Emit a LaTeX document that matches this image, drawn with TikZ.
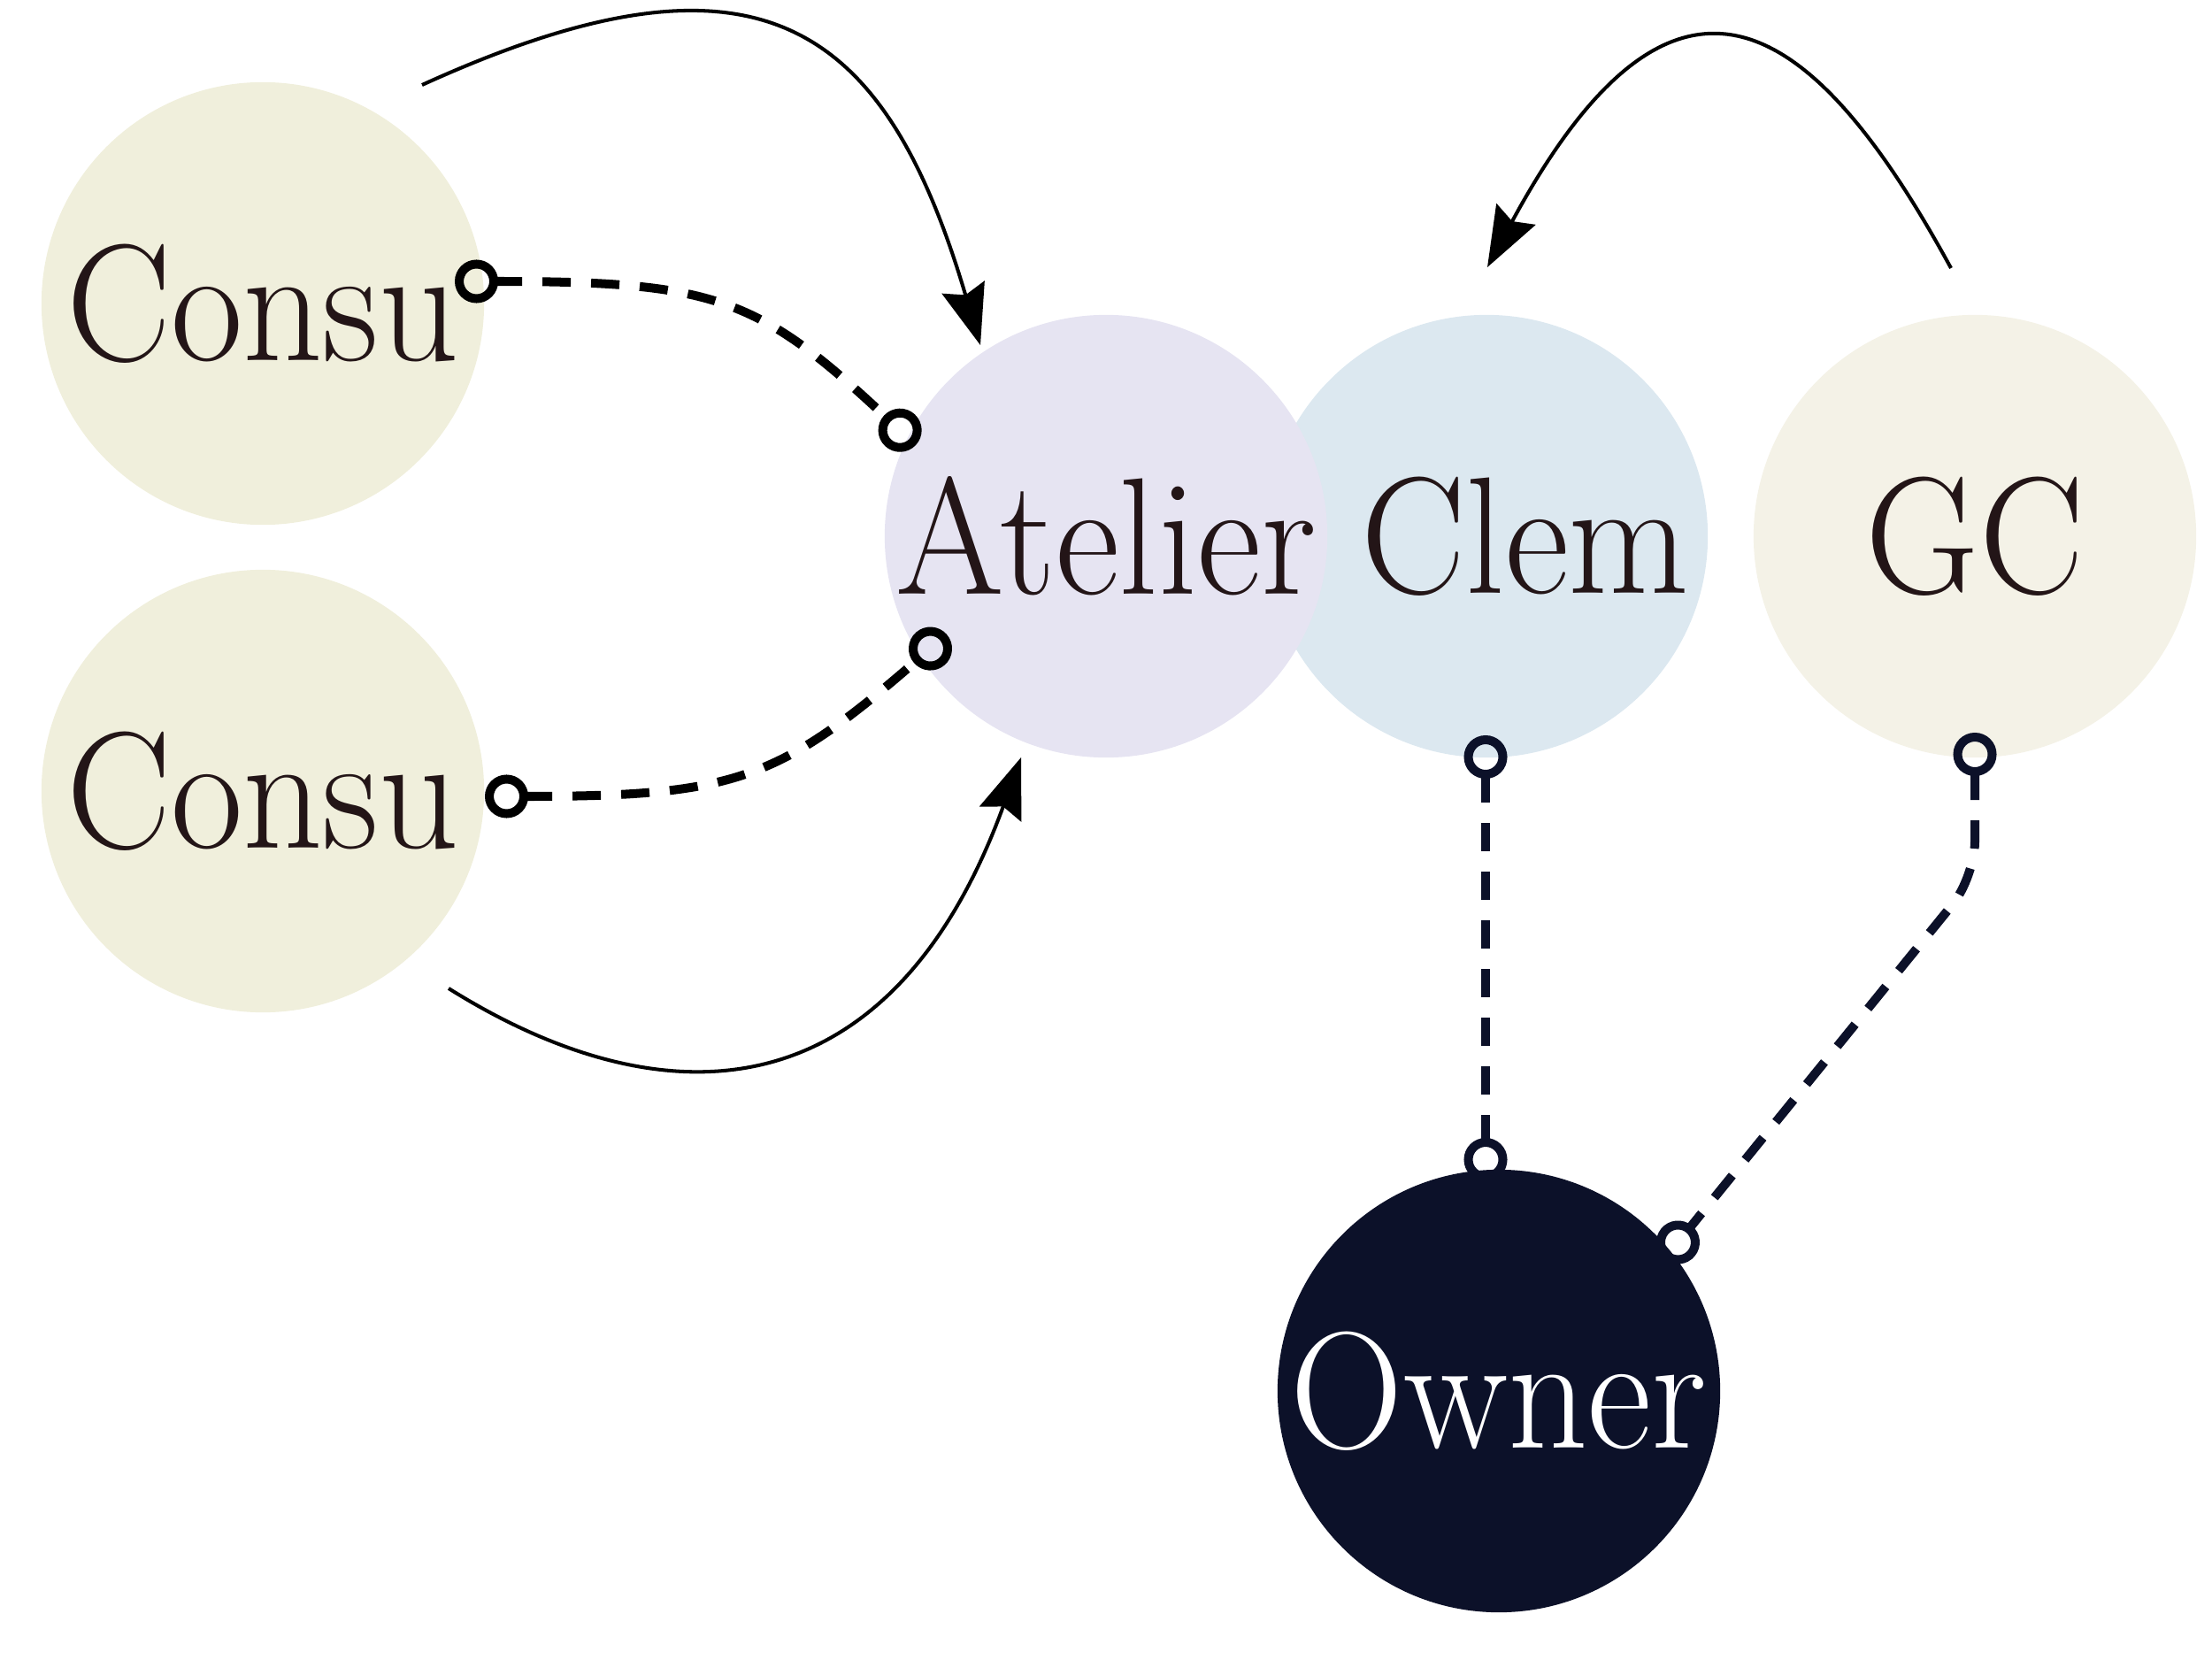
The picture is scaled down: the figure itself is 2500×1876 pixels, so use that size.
\documentclass[tikz,border=0pt]{standalone}
\usepackage{graphicx}
\usetikzlibrary{arrows.meta,calc}
\definecolor{consufill}{HTML}{F0EFDC}
\definecolor{gcfill}{HTML}{F4F2E7}
\definecolor{atelierfill}{HTML}{E6E4F2}
\definecolor{clemfill}{HTML}{DCE8F0}
\definecolor{ownerfill}{HTML}{0C1129}
\definecolor{inktext}{HTML}{231517}
\newcommand\sqz[1]{\scalebox{0.94}[1]{#1}}
\begin{document}
\begin{tikzpicture}[x=0.01cm,y=-0.01cm,
  party/.style={circle,minimum size=5cm,inner sep=0pt,text=inktext,font=\fontsize{53.5pt}{60pt}\selectfont},
  tag/.style={inner sep=0pt,text=inktext,font=\fontsize{53.5pt}{60pt}\selectfont},
  flow/.style={line width=1.15pt,black,-{Stealth[length=0.68cm,width=0.5cm,inset=0.09cm]}},
  link/.style={line width=2.85pt,dash pattern=on 0.32cm off 0.23cm,
    {Circle[open,length=0.49cm,width=0.49cm]}-{Circle[open,length=0.49cm,width=0.49cm]}},
]
\useasboundingbox (0,0) rectangle (2500,1876);
% nodes
\node[party,fill=consufill] (consuA) at (297,343) {\sqz{Consu}};
\node[party,fill=consufill] (consuB) at (297,894) {\sqz{Consu}};
\node[party,fill=clemfill] (clem) at (1680,606) {};
\node[party,fill=atelierfill] (atelier) at (1250,606) {\sqz{Atelier}};
\node[party,fill=gcfill] (gc) at (2232,606) {\sqz{GC}};
\node[party,fill=ownerfill,text=white] (owner) at (1694,1572) {\sqz{Owner}};
\node[tag] (clemtext) at ($(clem)+(44,0)$) {\sqz{Clem}};
% solid arrows
\coordinate (s1) at ($(consuA)+(180,-247)$);
\coordinate (e1) at ($(atelier)+(-142,-216)$);
\draw[flow] (s1) .. controls +(382,-174) and +(-108,-364) .. (e1);
\coordinate (s2) at ($(consuB)+(210,223)$);
\coordinate (e2) at ($(atelier)+(-96,250)$);
\draw[flow] (s2) .. controls +(254,159) and +(-144,395) .. (e2);
\coordinate (s7) at ($(gc)+(-27,-303)$);
\coordinate (e7) at ($(clem)+(1,-304)$);
\draw[flow] (s7) .. controls +(-154,-282) and +(214,-396) .. (e7);
% dashed links
\coordinate (s3) at ($(consuA)+(217,-25)$);
\coordinate (e3) at ($(atelier)+(-215,-103)$);
\draw[link,black] (s3) .. controls +(294,0) and +(-179,-168) .. (e3);
\coordinate (s4) at ($(consuB)+(251,6)$);
\coordinate (e4) at ($(atelier)+(-180,111)$);
\draw[link,black] (s4) .. controls +(283,0) and +(-190,165) .. (e4);
\coordinate (s5) at ($(clem)+(-1,225)$);
\coordinate (e5) at ($(owner)+(-15,-237)$);
\draw[link,ownerfill] (s5) -- (e5);
\coordinate (s6) at ($(gc)+(0,222)$);
\coordinate (e6) at ($(owner)+(187,-149)$);
\draw[link,ownerfill,rounded corners=0.4cm] (s6) -- ++(0,163) -- (e6);
\end{tikzpicture}
\end{document}
